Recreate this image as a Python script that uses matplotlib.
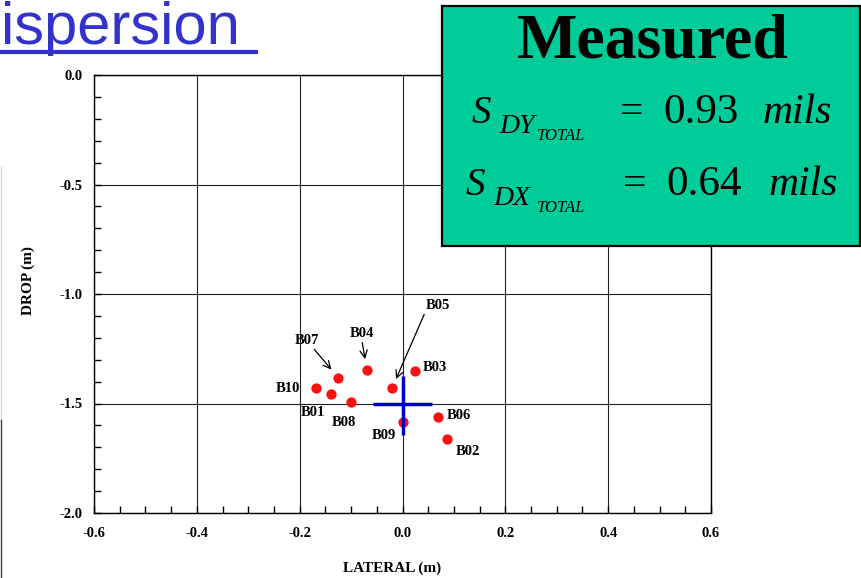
import numpy as np
import matplotlib
matplotlib.use('Agg')
import matplotlib.pyplot as plt
from matplotlib.patches import Rectangle
from matplotlib.lines import Line2D
from matplotlib.ticker import MultipleLocator

# measured impact points (lateral, drop) in metres
names = ['B01', 'B02', 'B03', 'B04', 'B05', 'B06', 'B07', 'B08', 'B09', 'B10']
lateral = [-0.140, 0.087, 0.024, -0.069, -0.020, 0.069, -0.125, -0.100, 0.000, -0.169]
drop = [-1.457, -1.664, -1.352, -1.347, -1.428, -1.563, -1.382, -1.492, -1.583, -1.428]

# aim point cross
aim = (0.0, -1.5)
cross_x = [-0.058, 0.058]
cross_y = [-1.375, -1.645]

sdy_total = '0.93'
sdx_total = '0.64'

W, H = 861, 578
fig = plt.figure(figsize=(W / 100, H / 100), dpi=100)

def fx(x):
    return x / W

def fy(y):
    return 1 - y / H

serif = 'Liberation Serif'

ax = fig.add_axes([fx(94), fy(513), (711 - 94) / W, (513 - 75) / H])
ax.set_xlim(-0.6, 0.6)
ax.set_ylim(-2.0, 0.0)
ax.xaxis.set_major_locator(MultipleLocator(0.2))
ax.xaxis.set_minor_locator(MultipleLocator(0.05))
ax.yaxis.set_major_locator(MultipleLocator(0.5))
ax.yaxis.set_minor_locator(MultipleLocator(0.1))
ax.grid(which='major', color='#222222', lw=0.8)
ax.set_axisbelow(True)
for s in ax.spines.values():
    s.set_linewidth(1.0)
ax.tick_params(which='both', direction='in', top=False, right=False, width=1.0, length=5)
ax.tick_params(axis='y', pad=8)
ax.tick_params(axis='x', pad=10)
ax.xaxis.set_major_formatter(matplotlib.ticker.FormatStrFormatter('%.1f'))
ax.yaxis.set_major_formatter(matplotlib.ticker.FormatStrFormatter('%.1f'))
for lab in ax.get_xticklabels() + ax.get_yticklabels():
    lab.set_fontfamily(serif)
    lab.set_fontweight('bold')
    lab.set_fontsize(10.5)

ax.scatter(lateral, drop, s=55, color='#ff1010', zorder=4, linewidths=0)

# blue cross
ax.plot(cross_x, [aim[1], aim[1]], color='#0000cc', lw=2.5, zorder=5, solid_capstyle='butt')
ax.plot([aim[0], aim[0]], cross_y, color='#0000cc', lw=2.5, zorder=5, solid_capstyle='butt')

# label offsets (points) and arrows
offsets = {
    'B01': (-12.7, -13.2), 'B02': (14.6, -8.6), 'B03': (14.2, 2.7),
    'B04': (-3.8, 26.4), 'B05': (32.7, 59.5), 'B06': (15.1, 1.2),
    'B07': (-22.5, 27.1), 'B08': (-5.0, -14.8), 'B09': (-13.2, -10.1),
    'B10': (-20.0, -0.9),
}
arrows = {'B04': ((0.5, 0), 8.0), 'B05': ((0, 0), 6.8), 'B07': ((0.7, 0), 7.6)}
for n, x, y in zip(names, lateral, drop):
    kw = dict(textcoords='offset points', ha='center', va='center',
              fontsize=10.5, fontweight='bold', family=serif, zorder=6)
    if n in arrows:
        relpos, shrink = arrows[n]
        kw['arrowprops'] = dict(arrowstyle='->,head_length=0.5,head_width=0.25', color='black',
                                lw=0.9, relpos=relpos, shrinkA=0, shrinkB=shrink)
    ax.annotate(n, xy=(x, y), xytext=offsets[n], **kw)

# axis titles
fig.text(fx(392), fy(568), 'LATERAL (m)', ha='center', va='center',
         fontsize=11, fontweight='bold', family=serif)
fig.text(fx(28), fy(281), 'DROP (m)', ha='center', va='center', rotation=90,
         fontsize=11, fontweight='bold', family=serif)

# slide title fragment
fig.text(fx(1), fy(44), 'ispersion', ha='left', va='baseline', fontsize=43,
         color='#3333cc', family='Liberation Sans')
fig.add_artist(Line2D([fx(0), fx(256)], [fy(52), fy(52)], color='#3333cc', lw=3.0))

# slide edge
fig.add_artist(Line2D([fx(1), fx(1)], [fy(167), fy(420)], color='#c8d8ee', lw=1.0))
fig.add_artist(Line2D([fx(1), fx(1)], [fy(420), fy(578)], color='#3a4640', lw=1.0))

# measured box
fig.add_artist(Rectangle((fx(442), fy(246)), (860 - 442) / W, (246 - 6) / H,
                         facecolor='#00cc99', edgecolor='black', lw=1.6, zorder=2))
fig.text(fx(653), fy(58), 'Measured', ha='center', va='baseline', fontsize=46,
         fontweight='bold', family=serif, zorder=3)

rows = [
    (123, 472, 'DY', 499, 133, 537, 140, 632, 663, 763, sdy_total),
    (195, 466, 'DX', 493, 205, 537, 212, 635, 666, 768, sdx_total),
]
for base, sx, sub, subx, suby, totx, toty, eqx, numx, milx, val in rows:
    fig.text(fx(sx), fy(base), 'S', ha='left', va='baseline', fontsize=28,
             style='italic', family=serif, zorder=3)
    fig.text(fx(subx), fy(suby), sub, ha='left', va='baseline', fontsize=20,
             style='italic', family=serif, zorder=3)
    fig.text(fx(totx), fy(toty), 'TOTAL', ha='left', va='baseline', fontsize=12,
             style='italic', family=serif, zorder=3)
    fig.text(fx(eqx), fy(base), '=', ha='center', va='baseline', fontsize=30,
             family=serif, zorder=3)
    fig.text(fx(numx), fy(base), val, ha='left', va='baseline', fontsize=31,
             family=serif, zorder=3)
    fig.text(fx(milx), fy(base), 'mils', ha='left', va='baseline', fontsize=30,
             style='italic', family=serif, zorder=3)

fig.savefig('out.png', dpi=100)
